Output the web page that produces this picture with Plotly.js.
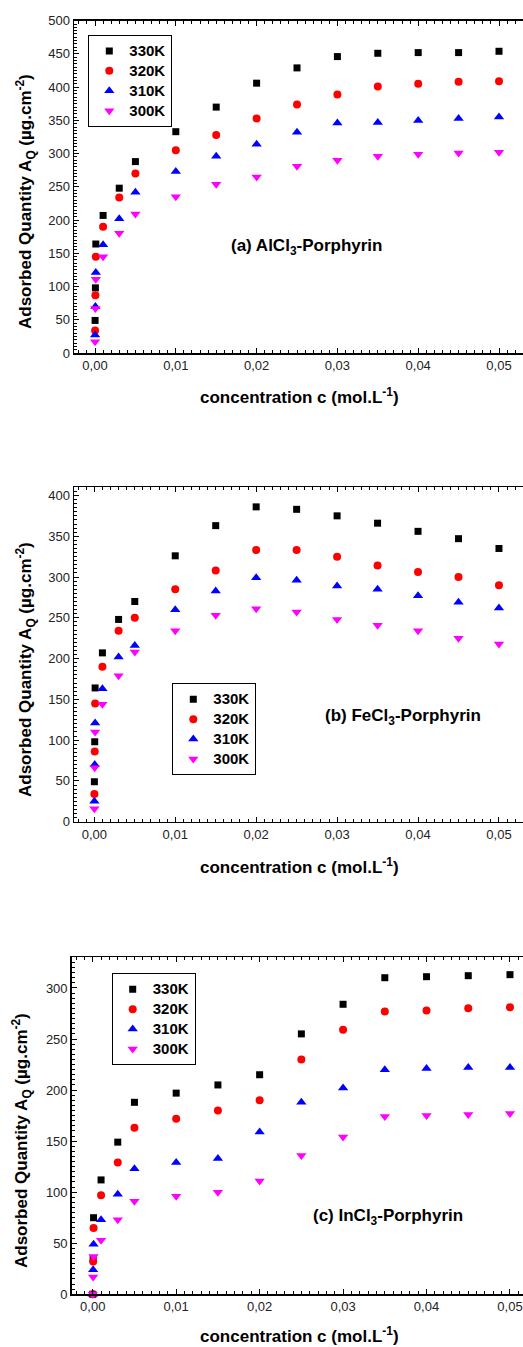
<!DOCTYPE html>
<html>
<head>
<meta charset="utf-8">
<script src="https://cdn.plot.ly/plotly-3.0.1.min.js"></script>
<style>
html,body{margin:0;padding:0;background:#fff;}
#chart{width:523px;height:1347px;}
</style>
</head>
<body>
<div id="chart"></div>
<script>
// concentration c (mol.L-1)
const conc = [0.00001, 0.00005, 0.0001, 0.001, 0.003, 0.005, 0.01, 0.015, 0.02, 0.025, 0.03, 0.035, 0.04, 0.045, 0.05];
const seriesNames = ['330K', '320K', '310K', '300K'];

// (a) AlCl3-Porphyrin
const al330 = [49, 98, 164, 207, 248, 288, 333, 370, 406, 429, 446, 451, 452, 452, 454];
const al320 = [34, 87, 145, 190, 234, 270, 305, 328, 353, 374, 389, 401, 405, 408, 409];
const al310 = [27, 70, 121, 163, 202, 242, 273, 296, 314, 332, 346, 347, 350, 353, 355];
const al300 = [17, 67, 111, 145, 180, 209, 235, 254, 265, 281, 290, 296, 299, 301, 302];

// (b) FeCl3-Porphyrin
const fe330 = [49, 98, 164, 207, 248, 270, 326, 363, 386, 383, 375, 366, 356, 347, 335];
const fe320 = [34, 86, 145, 190, 234, 250, 285, 308, 333, 333, 325, 314, 306, 300, 290];
const fe310 = [25, 70, 121, 163, 202, 216, 260, 283, 299, 296, 289, 285, 277, 269, 262];
const fe300 = [16, 66, 110, 144, 179, 208, 234, 253, 261, 257, 248, 241, 234, 225, 218];

// (c) InCl3-Porphyrin
const in330 = [0, 35, 75, 112, 149, 188, 197, 205, 215, 255, 284, 310, 311, 312, 313];
const in320 = [0, 32, 65, 97, 129, 163, 172, 180, 190, 230, 259, 277, 278, 280, 281];
const in310 = [0, 24, 49, 73, 98, 123, 129, 133, 159, 188, 202, 220, 221, 222, 222];
const in300 = [0, 17, 37, 53, 73, 91, 96, 100, 111, 136, 154, 174, 175, 176, 177];

const colors = ['#000000', '#ff0000', '#0000ff', '#ff00ff'];
const symbols = ['square', 'circle', 'triangle-up', 'triangle-down'];
const sizes = [7, 8, 9, 9];

const FONT = '"Liberation Sans", Arial, Helvetica, sans-serif';
const W = 523, H = 1347;

function mk(ys, i, xa, ya, leg) {
  return {
    x: conc, y: ys, type: 'scatter', mode: 'markers',
    name: '<span style="font-size:15px">' + seriesNames[i] + '</span>',
    xaxis: xa, yaxis: ya, legend: leg, cliponaxis: false,
    marker: {symbol: symbols[i], color: colors[i], size: sizes[i], line: {width: 0}}
  };
}

const data = [];
[al330, al320, al310, al300].forEach((s, i) => data.push(mk(s, i, 'x', 'y', 'legend')));
[fe330, fe320, fe310, fe300].forEach((s, i) => data.push(mk(s, i, 'x2', 'y2', 'legend2')));
[in330, in320, in310, in300].forEach((s, i) => data.push(mk(s, i, 'x3', 'y3', 'legend3')));

function xax(domain, range, anchor) {
  return {
    domain: domain, range: range, anchor: anchor, dtick: 0.01, tick0: 0, tickformat: '.2f',
    ticks: 'inside', ticklen: 5, tickwidth: 1, tickcolor: '#000',
    minor: {dtick: 0.001, tick0: 0, ticks: 'inside', ticklen: 3, tickwidth: 1, tickcolor: '#000', showgrid: false},
    showline: true, linecolor: '#000', linewidth: 1.5, mirror: 'allticks',
    showgrid: false, zeroline: false,
    tickfont: {family: FONT, size: 13, color: '#222'}
  };
}
function yax(domain, range, anchor) {
  return {
    domain: domain, range: range, anchor: anchor, dtick: 50, tick0: 0,
    ticks: 'inside', ticklen: 5, tickwidth: 1, tickcolor: '#000',
    minor: {dtick: 5, tick0: 0, ticks: 'inside', ticklen: 3, tickwidth: 1, tickcolor: '#000', showgrid: false},
    showline: true, linecolor: '#000', linewidth: 1.5,
    showgrid: false, zeroline: false,
    tickfont: {family: FONT, size: 13, color: '#222'}
  };
}
function leg(px, py) {
  return {
    x: px / W, y: 1 - py / H, xanchor: 'left', yanchor: 'top',
    bordercolor: '#000', borderwidth: 1, bgcolor: '#fff',
    font: {family: FONT, size: 13, color: '#000', weight: 'bold'},
    tracegroupgap: 0
  };
}
function ann(text, px, py, size, angle) {
  return {
    text: text, x: px / W, y: 1 - py / H, xref: 'paper', yref: 'paper',
    xanchor: 'center', yanchor: 'middle', showarrow: false, textangle: angle || 0,
    font: {family: FONT, size: size, color: '#000', weight: 'bold'}
  };
}

const xTitle = 'concentration c (mol.L<sup>-1</sup>)';
const yTitle = 'Adsorbed Quantity A<sub>Q</sub> (µg.cm<sup>-2</sup>)';

const layout = {
  width: W, height: H,
  margin: {l: 0, r: 0, t: 0, b: 0},
  paper_bgcolor: '#fff', plot_bgcolor: '#fff',
  separators: ', ',
  font: {family: FONT},
  showlegend: true,
  xaxis: xax([74 / W, 1], [-0.0026, 0.05297], 'y'),
  yaxis: yax([1 - 353 / H, 1 - 20.7 / H], [0, 500], 'x'),
  xaxis2: xax([74 / W, 1], [-0.00251, 0.05297], 'y2'),
  yaxis2: yax([1 - 821.7 / H, 1 - 487.3 / H], [0, 410], 'x2'),
  xaxis3: xax([71.7 / W, 1], [-0.00252, 0.05156], 'y3'),
  yaxis3: yax([1 - 1294.3 / H, 1 - 957.3 / H], [0, 330], 'x3'),
  legend: leg(88.3, 35),
  legend2: leg(172.3, 683.3),
  legend3: leg(111.7, 973.3),
  annotations: [
    ann('(a) AlCl<sub>3</sub>-Porphyrin', 306, 247, 17),
    ann('(b) FeCl<sub>3</sub>-Porphyrin', 403, 717, 17),
    ann('(c) InCl<sub>3</sub>-Porphyrin', 388, 1217, 17),
    ann(xTitle, 299, 396, 17),
    ann(xTitle, 299, 866, 17),
    ann(xTitle, 299, 1335, 17),
    ann(yTitle, 25, 202, 17, -90),
    ann(yTitle, 25, 670, 17, -90),
    ann(yTitle, 21, 1141, 17, -90)
  ]
};

Plotly.newPlot('chart', data, layout, {displayModeBar: false, staticPlot: true});
</script>
</body>
</html>
